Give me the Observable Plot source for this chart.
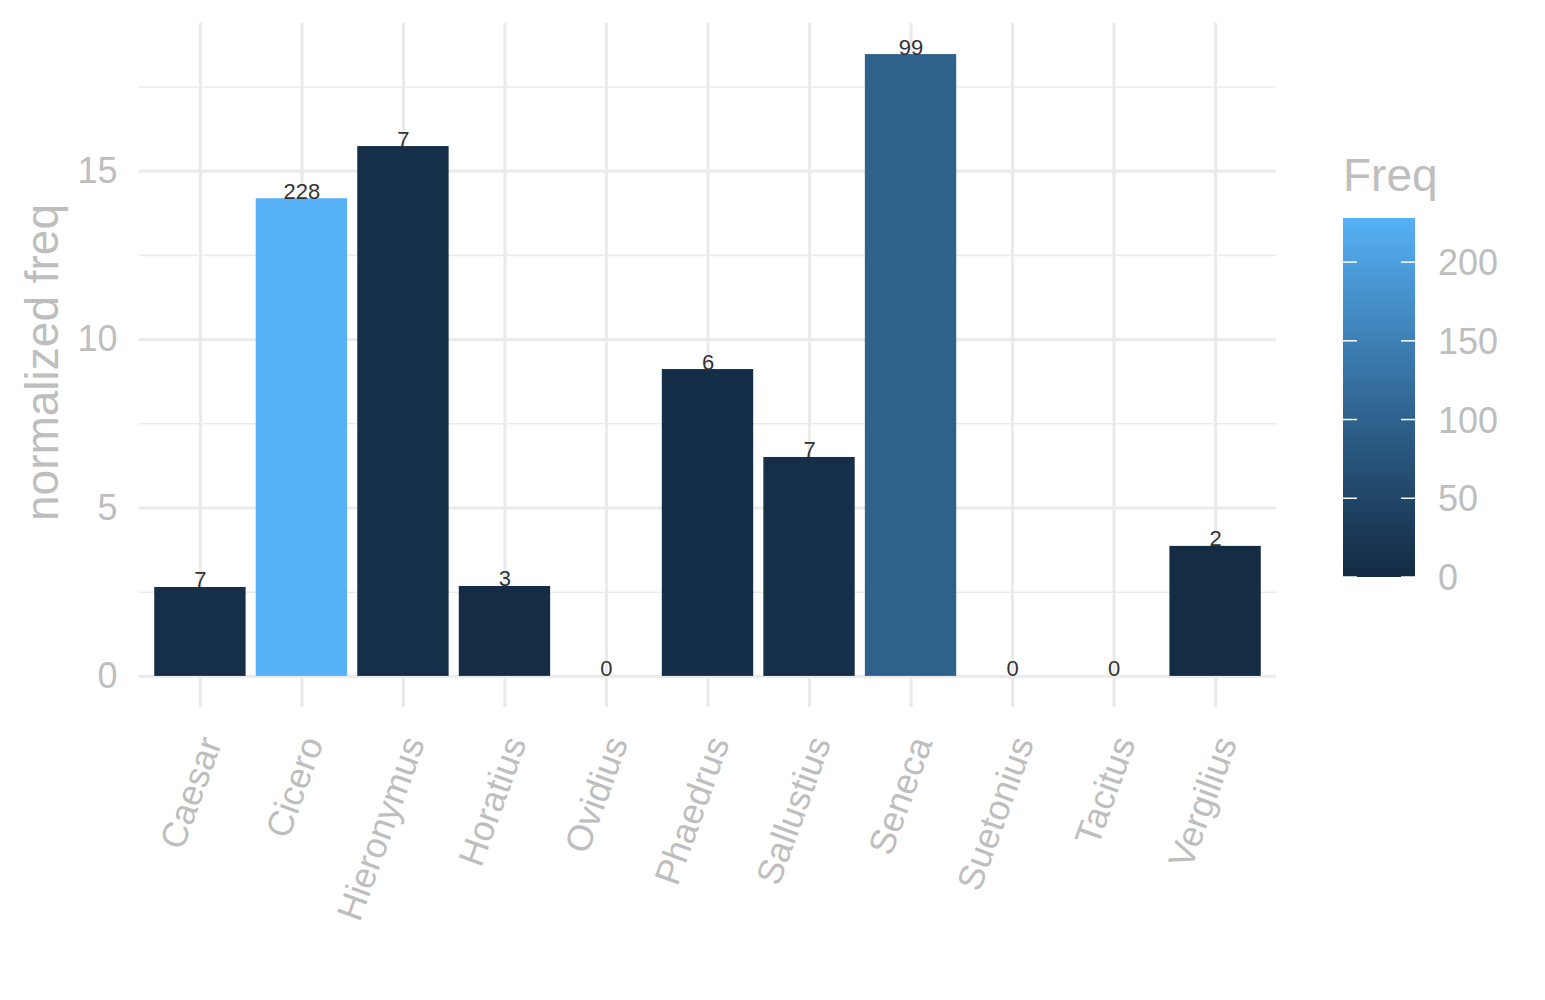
<!DOCTYPE html>
<html>
<head>
<meta charset="utf-8">
<script src="https://cdn.jsdelivr.net/npm/d3@7"></script>
<script src="https://cdn.jsdelivr.net/npm/@observablehq/plot@0.6"></script>
<style>
  html, body { margin: 0; padding: 0; background: #fff; }
  #chart { position: relative; width: 1545px; height: 1000px; }
  svg { font-family: "Liberation Sans", Arial, Helvetica, sans-serif; }
</style>
</head>
<body>
<div id="chart"></div>
<script>
const authors = ["Caesar","Cicero","Hieronymus","Horatius","Ovidius","Phaedrus","Sallustius","Seneca","Suetonius","Tacitus","Vergilius"];
const normFreq = [2.64, 14.18, 15.73, 2.67, 0, 9.11, 6.50, 18.46, 0, 0, 3.86];
const freq = [7, 228, 7, 3, 0, 6, 7, 99, 0, 0, 2];
const yMajorTicks = [0, 5, 10, 15];
const yMinorTicks = [2.5, 7.5, 12.5, 17.5];
const legendTicks = [0, 50, 100, 150, 200];
const yTitle = "normalized freq";
const legendTitle = "Freq";

const data = authors.map((a, i) => ({author: a, value: normFreq[i], freq: freq[i]}));
const maxV = d3.max(normFreq);
const gray = "#BEBEBE";
const grid = "#EBEBEB";

const plot = Plot.plot({
  width: 1545,
  height: 1000,
  marginLeft: 139,
  marginRight: 269,
  marginTop: 23,
  marginBottom: 293,
  style: {fontFamily: "'Liberation Sans', Arial, Helvetica, sans-serif", background: "#fff"},
  x: {type: "band", domain: authors, paddingInner: 0.1, paddingOuter: 0.15, round: false, label: null},
  y: {domain: [-0.05 * maxV, 1.05 * maxV], label: null},
  color: {type: "linear", range: ["#132B43", "#56B1F7"], interpolate: "lab"},
  marks: [
    Plot.ruleY(yMinorTicks, {stroke: grid, strokeWidth: 1.6}),
    Plot.ruleY(yMajorTicks, {stroke: grid, strokeWidth: 3.2}),
    Plot.ruleX(authors, {x: d => d, stroke: grid, strokeWidth: 3.2}),
    Plot.barY(data, {x: "author", y: "value", fill: "freq", inset: 0}),
    Plot.text(data, {x: "author", y: "value", text: d => String(d.freq), lineAnchor: "bottom", dy: 0, fill: "#333", fontSize: 22}),
    Plot.axisY(yMajorTicks, {tickSize: 0, tickPadding: 22, fontSize: 36, fill: gray, label: null}),
    Plot.axisX({tickSize: 0, tickPadding: 31, dx: 11, tickRotate: -70, fontSize: 36, fill: gray, label: null}),
    Plot.text([yTitle], {frameAnchor: "left", dx: -96, dy: -3, rotate: -90, textAnchor: "middle", fontSize: 46, fill: gray})
  ]
});

document.getElementById("chart").appendChild(plot);

// Vertical colourbar legend drawn with the plot's own color scale
const color = plot.scale("color");
const svg = d3.select(plot);
const lg = svg.append("g").attr("text-anchor", "start");
const barX = 1343, barW = 72, barTop = 218, barBot = 577;
const ly = d3.scaleLinear().domain([0, d3.max(freq)]).range([barBot, barTop]);
const defs = svg.append("defs");
const grad = defs.append("linearGradient").attr("id", "freqgrad")
  .attr("x1", 0).attr("y1", 1).attr("x2", 0).attr("y2", 0);
d3.range(0, 21).forEach(i => {
  const t = i / 20;
  grad.append("stop").attr("offset", t)
    .attr("stop-color", color.apply(t * d3.max(freq)));
});
lg.append("rect").attr("x", barX).attr("y", barTop).attr("width", barW).attr("height", barBot - barTop)
  .attr("fill", "url(#freqgrad)");
legendTicks.forEach(v => {
  const y = ly(v);
  lg.append("line").attr("x1", barX).attr("x2", barX + 14).attr("y1", y).attr("y2", y)
    .attr("stroke", "#fff").attr("stroke-width", 1.5);
  lg.append("line").attr("x1", barX + barW - 14).attr("x2", barX + barW).attr("y1", y).attr("y2", y)
    .attr("stroke", "#fff").attr("stroke-width", 1.5);
  lg.append("text").attr("x", barX + barW + 23).attr("y", y).attr("dy", "0.36em")
    .attr("text-anchor", "start").attr("font-size", 36).attr("fill", gray).text(v);
});
lg.append("text").attr("x", barX).attr("y", 191).attr("text-anchor", "start")
  .attr("font-size", 46).attr("fill", gray).text(legendTitle);
</script>
</body>
</html>
